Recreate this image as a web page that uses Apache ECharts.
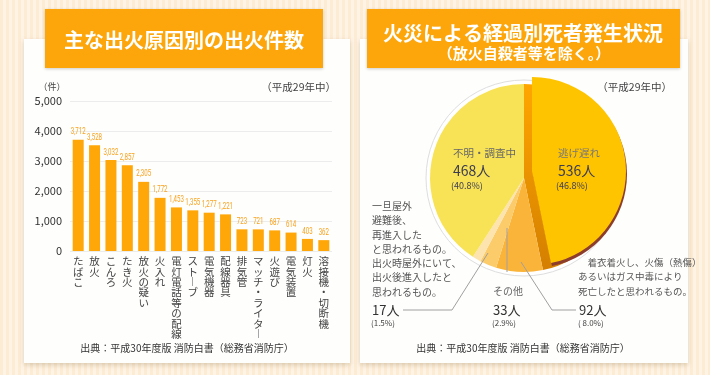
<!DOCTYPE html>
<html>
<head>
<meta charset="utf-8">
<script src="https://cdn.jsdelivr.net/npm/echarts@6/dist/echarts.min.js"></script>
<style>
  html, body {
    margin: 0;
    padding: 0;
  }
  body {
    width: 710px;
    height: 375px;
    background: repeating-linear-gradient(90deg, #fdecd4 0, #fdecd4 3px, #fef4e6 3px, #fef4e6 6px);
  }
  #chart {
    width: 710px;
    height: 375px;
  }
</style>
</head>
<body>
<div id="chart"></div>
<script>
// 主な出火原因別の出火件数（平成29年中）
const causes = ['たばこ', '放火', 'こんろ', 'たき火', '放火の疑い', '火入れ', '電灯電話等の配線', 'ストーブ', '電気機器', '配線器具', '排気管', 'マッチ・ライター', '火遊び', '電気装置', '灯火', '溶接機・切断機']
const fireCounts = [3712, 3528, 3032, 2857, 2305, 1772, 1453, 1355, 1277, 1221, 723, 721, 687, 614, 403, 362]
const yMax = 5000
const yStep = 1000

// 火災による経過別死者発生状況
const deathNames = ['逃げ遅れ', '着衣着火', 'その他', '再進入', '不明・調査中']
const deathCounts = [536, 92, 33, 17, 468]
const deathColors = ['#ffc400', '#fbb43a', '#fccb6a', '#fde4ae', '#f8e356']

const FONT = '"Noto Sans CJK JP", "Noto Sans", sans-serif'
const total = deathCounts.reduce((a, b) => a + b, 0)
const pct = (v) => ((v / total) * 100).toFixed(1)

const chartDom = echarts.init(document.getElementById('chart'))

// 逃げ遅れだけ浮かせて立体っぽく見せる
const onlyFirst = (color) =>
  deathCounts.map((v, i) => ({
    value: v,
    name: deathNames[i],
    itemStyle: { color: i === 0 ? color : 'transparent' },
  }))

const pieCommon = {
  type: 'pie',
  radius: 94,
  startAngle: 90,
  clockwise: true,
  silent: true,
  animation: false,
  label: { show: false },
  labelLine: { show: false },
}

const txt = (x, y, text, size, color, extra) => ({
  type: 'text',
  x: x,
  y: y,
  z: 20,
  style: Object.assign(
    {
      text: text,
      font: size + 'px ' + FONT,
      fill: color,
      textVerticalAlign: 'middle',
    },
    extra || {}
  ),
})

const line = (points) => ({
  type: 'polyline',
  z: 20,
  shape: { points: points },
  style: { stroke: '#a0a0a0', lineWidth: 1, fill: null },
})

const option = {
  textStyle: { fontFamily: FONT },
  graphic: [
    // cards
    {
      type: 'rect',
      z: -10,
      shape: { x: 24, y: 39, width: 326, height: 324 },
      style: { fill: '#fefefd', shadowBlur: 5, shadowOffsetY: 2, shadowColor: 'rgba(120,90,40,0.25)' },
    },
    {
      type: 'rect',
      z: -10,
      shape: { x: 360, y: 39, width: 328, height: 324 },
      style: { fill: '#fefefd', shadowBlur: 5, shadowOffsetY: 2, shadowColor: 'rgba(120,90,40,0.25)' },
    },
    // title boxes
    {
      type: 'rect',
      z: -5,
      shape: { x: 45, y: 9, width: 278, height: 59 },
      style: { fill: '#fca60b', shadowBlur: 3, shadowOffsetY: 1, shadowColor: 'rgba(0,0,0,0.2)' },
    },
    {
      type: 'rect',
      z: -5,
      shape: { x: 367, y: 9, width: 313, height: 59 },
      style: { fill: '#fca60b', shadowBlur: 3, shadowOffsetY: 1, shadowColor: 'rgba(0,0,0,0.2)' },
    },
    txt(184, 40, '主な出火原因別の出火件数', 20, '#fff', { textAlign: 'center', font: 'bold 20px ' + FONT }),
    txt(523, 33, '火災による経過別死者発生状況', 20, '#fff', { textAlign: 'center', font: 'bold 20px ' + FONT }),
    txt(524, 53, '（放火自殺者等を除く。）', 15, '#fff', { textAlign: 'center', font: 'bold 15px ' + FONT }),

    // left chart texts
    txt(52, 87, '（件）', 9, '#444', { textAlign: 'center' }),
    txt(336, 87, '（平成29年中）', 10.5, '#444', { textAlign: 'right' }),
    txt(187, 348, '出典：平成30年度版 消防白書（総務省消防庁）', 10, '#333', { textAlign: 'center' }),

    // right chart texts
    txt(672, 87, '（平成29年中）', 10.5, '#444', { textAlign: 'right' }),
    txt(523, 348, '出典：平成30年度版 消防白書（総務省消防庁）', 10, '#333', { textAlign: 'center' }),

    // 不明・調査中
    txt(453, 153, deathNames[4], 10.5, '#666'),
    txt(453, 171, deathCounts[4] + '人', 14, '#3d3d52'),
    txt(451, 186, '(' + pct(deathCounts[4]) + '%)', 9, '#3d3d52'),
    // 逃げ遅れ
    txt(558, 153, deathNames[0], 10.5, '#777'),
    txt(558, 171, deathCounts[0] + '人', 14, '#3d3d52'),
    txt(556, 186, '(' + pct(deathCounts[0]) + '%)', 9, '#3d3d52'),

    // 再進入
    txt(372, 199, '一旦屋外\n避難後、\n再進入した\nと思われるもの。\n出火時屋外にいて、\n出火後進入したと\n思われるもの。', 10, '#555', {
      textVerticalAlign: 'top',
      lineHeight: 14.3,
    }),
    txt(372, 310, deathCounts[3] + '人', 13, '#333'),
    txt(371, 323, '(' + pct(deathCounts[3]) + '%)', 8, '#444'),
    line([[403, 310], [452, 310], [488, 253]]),

    // その他
    txt(493, 291, deathNames[2], 10, '#666'),
    txt(493, 310, deathCounts[2] + '人', 13, '#333'),
    txt(492, 323, '(' + pct(deathCounts[2]) + '%)', 8, '#444'),
    line([[507, 228], [507, 272]]),

    // 着衣着火
    txt(578, 255, '　着衣着火し、火傷（熱傷）\nあるいはガス中毒により\n死亡したと思われるもの。', 9.5, '#555', {
      textVerticalAlign: 'top',
      lineHeight: 14.5,
    }),
    txt(579, 310, deathCounts[1] + '人', 13, '#333'),
    txt(578, 323, '( ' + pct(deathCounts[1]) + '%)', 8, '#444'),
    line([[576, 310], [552, 310], [521, 262]]),
  ],
  grid: {
    left: 70,
    top: 101,
    width: 262,
    height: 150,
  },
  xAxis: {
    type: 'category',
    data: causes,
    axisLine: { show: false },
    axisTick: { show: false },
    axisLabel: {
      interval: 0,
      margin: 5,
      fontSize: 10.5,
      lineHeight: 10.4,
      color: '#444',
      verticalAlign: 'top',
      // 縦書き
      formatter: (v) =>
        v
          .split('')
          .map((c) => (c === 'ー' ? '︱' : c))
          .join('\n'),
    },
  },
  yAxis: {
    type: 'value',
    min: 0,
    max: yMax,
    interval: yStep,
    axisLine: { show: false },
    axisTick: { show: false },
    axisLabel: {
      margin: 8,
      fontSize: 11,
      color: '#333',
      formatter: (v) => v.toLocaleString('en-US'),
    },
    splitLine: {
      lineStyle: { color: '#ececec', width: 1 },
    },
  },
  series: [
    {
      type: 'bar',
      data: fireCounts,
      barWidth: 11,
      itemStyle: { color: '#ffa708' },
      animation: false,
    },
    // 値ラベル（細い数字なので横に縮める）
    {
      type: 'custom',
      data: fireCounts.map((v, i) => [i, v]),
      z: 5,
      silent: true,
      animation: false,
      renderItem: (params, api) => {
        const p = api.coord([api.value(0), api.value(1)])
        return {
          type: 'text',
          x: p[0],
          y: p[1] - 3,
          scaleX: 0.72,
          style: {
            text: api.value(1).toLocaleString('en-US'),
            textAlign: 'center',
            textVerticalAlign: 'bottom',
            font: '8.5px Roboto, sans-serif',
            fill: '#f9a11b',
          },
        }
      },
    },
    // outline ring
    Object.assign({}, pieCommon, {
      center: [524, 178],
      radius: 98,
      z: 1,
      data: [{ value: 1, itemStyle: { color: '#ffffff', borderColor: '#dedede', borderWidth: 1 } }],
    }),
    // base pie（逃げ遅れの側面）
    Object.assign({}, pieCommon, {
      center: [524, 178],
      z: 2,
      data: deathCounts.map((v, i) => ({
        value: v,
        name: deathNames[i],
        itemStyle: {
          color:
            i === 0
              ? new echarts.graphic.LinearGradient(0, 0, 0, 1, [
                  { offset: 0, color: '#ffa600' },
                  { offset: 1, color: '#d47f00' },
                ])
              : deathColors[i],
        },
      })),
    }),
    // brown rim
    Object.assign({}, pieCommon, {
      center: [533, 174],
      z: 3,
      data: onlyFirst('#8c3d2c'),
    }),
    // face of 逃げ遅れ
    Object.assign({}, pieCommon, {
      center: [532, 171],
      z: 4,
      data: onlyFirst(deathColors[0]),
    }),
  ],
}

chartDom.setOption(option)
</script>
</body>
</html>
